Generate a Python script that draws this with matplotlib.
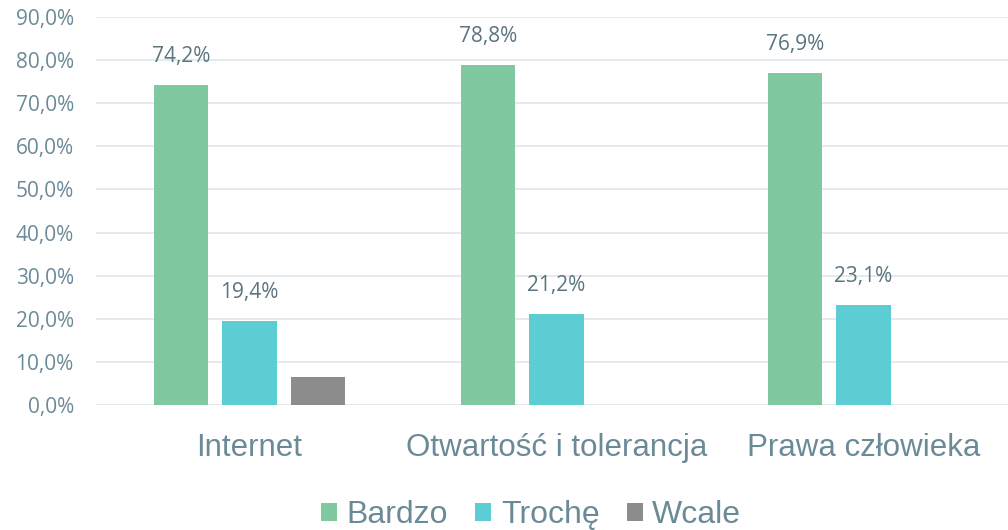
import matplotlib
matplotlib.use('Agg')
import matplotlib.pyplot as plt
import numpy as np

categories = ['Internet', 'Otwartość i tolerancja', 'Prawa człowieka']
series = ['Bardzo', 'Trochę', 'Wcale']
bardzo = [74.2, 78.8, 76.9]
troche = [19.4, 21.2, 23.1]
wcale = [6.4, 0.0, 0.0]
yticks = [0, 10, 20, 30, 40, 50, 60, 70, 80, 90]

colors = ['#7fc8a0', '#5bcdd3', '#8c8c8c']
tick_col = '#6b8a97'
lab_col = '#5a7480'

fig = plt.figure(figsize=(10.08, 5.30), dpi=100)
ax = fig.add_axes([96/1008, 125/530, 921/1008, 388/530])

x = np.arange(len(categories))
w = 0.176
step = 0.224
vals = [bardzo, troche, wcale]
for i, (name, v) in enumerate(zip(series, vals)):
    bars = ax.bar(x + (i - 1) * step, v, width=w, color=colors[i], label=name, zorder=3)
    if i < 2:
        for b, val in zip(bars, v):
            ax.annotate(('%.1f%%' % val).replace('.', ','),
                        (b.get_x() + b.get_width() / 2, val),
                        xytext=(0, 13), textcoords='offset points',
                        ha='center', va='bottom', fontsize=15,
                        color=lab_col, family=['Open Sans', 'DejaVu Sans'])

ax.set_xlim(-0.5, 2.5)
ax.set_ylim(0, 90)
ax.set_yticks(yticks)
ax.set_yticklabels([('%.1f%%' % t).replace('.', ',') for t in yticks],
                   fontsize=15, color=tick_col, family=['Open Sans', 'DejaVu Sans'])
ax.yaxis.grid(True, color='#e3e8ed', lw=1.3, zorder=0)
ax.set_xticks(x)
ax.set_xticklabels(categories, fontsize=22.5, color=tick_col,
                   family=['Liberation Sans Narrow', 'Liberation Sans', 'DejaVu Sans'])
ax.tick_params(axis='both', length=0)
ax.tick_params(axis='y', pad=16)
ax.tick_params(axis='x', pad=20)
for s in ax.spines.values():
    s.set_visible(False)

leg = fig.legend(loc='center', bbox_to_anchor=(0.527, 15/530), ncol=3, frameon=False,
                 prop={'family': ['Liberation Sans', 'DejaVu Sans'], 'size': 23},
                 handlelength=0.5, handleheight=0.5, handletextpad=0.3, columnspacing=0.85)
for t in leg.get_texts():
    t.set_color(tick_col)

fig.savefig('out.png', dpi=100)
